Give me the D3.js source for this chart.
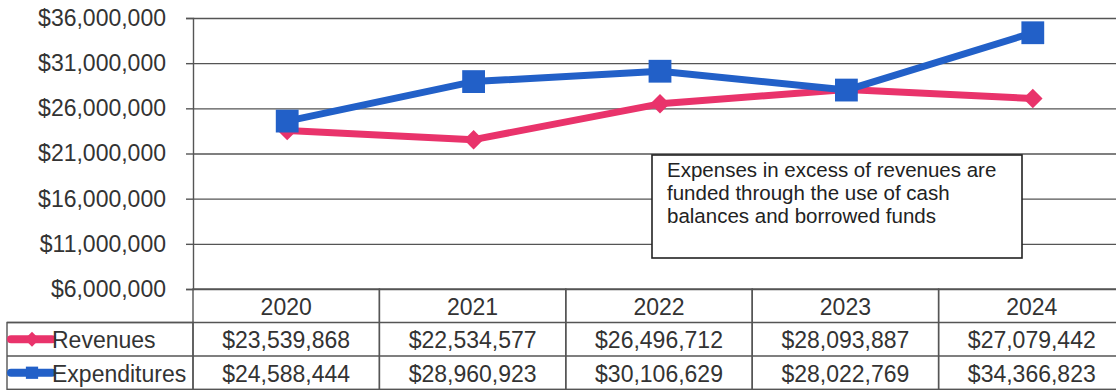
<!DOCTYPE html>
<html><head><meta charset="utf-8">
<script src="https://cdn.jsdelivr.net/npm/d3@7"></script>
<style>
  body { margin: 0; background: #fff; overflow: hidden; }
  svg { display: block; font-family: "Liberation Sans", Arial, sans-serif; }
</style>
</head><body>
<svg id="chart" width="1116" height="390"></svg>
<script>
// Revenue vs. expenditure history, with a data table under the plot
const years = ["2020", "2021", "2022", "2023", "2024"];
const revenues = [23539868, 22534577, 26496712, 28093887, 27079442];
const expenditures = [24588444, 28960923, 30106629, 28022769, 34366823];
const yTicks = [6000000, 11000000, 16000000, 21000000, 26000000, 31000000, 36000000];
const seriesNames = ["Revenues", "Expenditures"];
const noteLines = ["Expenses in excess of revenues are", "funded through the use of cash", "balances and borrowed funds"];

const series = [
  { name: seriesNames[0], values: revenues, color: "#e9336b", marker: "diamond" },
  { name: seriesNames[1], values: expenditures, color: "#2260c8", marker: "square" }
];

const svg = d3.select("#chart");
const textColor = "#333";
const lineColor = "#555";
const fontSize = "23px";

// the frame runs slightly past the right edge of the drawing
const plot = { left: 193, right: 1125, top: 18, bottom: 289 };
const rowH = 33.5;
const legendLeft = 7;

const y = d3.scaleLinear().domain([6000000, 36000000]).range([plot.bottom, plot.top]);
const col = d3.scaleBand().domain(years).range([plot.left, plot.right]);
const x = d => col(d) + col.bandwidth() / 2 + 1;

const fmt = d => "$" + d3.format(",")(d);

// Horizontal gridlines
const grid = svg.append("g")
  .attr("transform", `translate(${plot.left},0)`)
  .call(d3.axisLeft(y).tickValues(yTicks).tickSize(-(plot.right - plot.left)).tickFormat(""));
grid.select(".domain").remove();
grid.selectAll("line").attr("stroke", lineColor).attr("stroke-width", 1.4);

// Y axis with dollar labels
const yAxis = svg.append("g")
  .attr("transform", `translate(${plot.left},0)`)
  .call(d3.axisLeft(y).tickValues(yTicks).tickSize(7).tickPadding(20).tickFormat(fmt));
yAxis.attr("font-family", null).attr("font-size", null);
yAxis.select(".domain").attr("stroke", lineColor).attr("stroke-width", 1.4);
yAxis.selectAll("line").attr("stroke", lineColor).attr("stroke-width", 1.4);
yAxis.selectAll("text").attr("fill", textColor).style("font-size", fontSize);

// Data table under the plot
const table = svg.append("g");
const rowTop = i => plot.bottom + rowH * i;
table.selectAll(".hcell").data(years).join("rect")
  .attr("x", d => col(d)).attr("y", rowTop(0))
  .attr("width", col.bandwidth()).attr("height", rowH * 3)
  .attr("fill", "none").attr("stroke", lineColor).attr("stroke-width", 1.4);
table.selectAll(".rowline").data([1, 2, 3]).join("line")
  .attr("x1", legendLeft).attr("x2", plot.right)
  .attr("y1", d => rowTop(d)).attr("y2", d => rowTop(d))
  .attr("stroke", lineColor).attr("stroke-width", 1.4);
table.append("rect")
  .attr("x", legendLeft).attr("y", rowTop(1))
  .attr("width", plot.left - legendLeft).attr("height", rowH * 2)
  .attr("fill", "none").attr("stroke", lineColor).attr("stroke-width", 1.4);

table.selectAll(".year").data(years).join("text")
  .attr("x", d => col(d) + col.bandwidth() / 2)
  .attr("y", rowTop(0) + rowH / 2 + 1)
  .attr("text-anchor", "middle").attr("dominant-baseline", "central")
  .attr("fill", textColor).style("font-size", fontSize)
  .text(d => d);

series.forEach((s, si) => {
  const cy = rowTop(si + 1) + rowH / 2;
  table.selectAll(".val" + si).data(s.values).join("text")
    .attr("x", (d, i) => col(years[i]) + col.bandwidth() / 2)
    .attr("y", cy + 1)
    .attr("text-anchor", "middle").attr("dominant-baseline", "central")
    .attr("fill", textColor).style("font-size", fontSize)
    .text(d => fmt(d));
  // legend key
  table.append("line")
    .attr("x1", legendLeft + 4).attr("x2", legendLeft + 45)
    .attr("y1", cy).attr("y2", cy)
    .attr("stroke", s.color).attr("stroke-width", 8).attr("stroke-linecap", "round");
  const key = d3.symbol().type(d3.symbolSquare).size(s.marker === "square" ? 150 : 110);
  table.append("path").attr("d", key)
    .attr("transform", `translate(${legendLeft + 25},${cy}) rotate(${s.marker === "diamond" ? 45 : 0})`)
    .attr("fill", s.color);
  table.append("text")
    .attr("x", legendLeft + 45).attr("y", cy + 1)
    .attr("dominant-baseline", "central")
    .attr("fill", textColor).style("font-size", fontSize)
    .text(s.name);
});

// Series lines and markers
const line = d3.line().x((d, i) => x(years[i])).y(d => y(d));
series.forEach(s => {
  const g = svg.append("g");
  g.append("path").datum(s.values).attr("d", line)
    .attr("fill", "none").attr("stroke", s.color).attr("stroke-width", 7)
    .attr("stroke-linejoin", "round");
  const sym = d3.symbol().type(d3.symbolSquare).size(s.marker === "square" ? 520 : 190);
  g.selectAll("path.mk").data(s.values).join("path")
    .attr("class", "mk")
    .attr("d", sym)
    .attr("transform", (d, i) => `translate(${x(years[i])},${y(d)}) rotate(${s.marker === "diamond" ? 45 : 0})`)
    .attr("fill", s.color);
});

// Explanatory note
const note = svg.append("g");
note.append("rect")
  .attr("x", 652).attr("y", 155).attr("width", 370).attr("height", 103)
  .attr("fill", "#fff").attr("stroke", "#222").attr("stroke-width", 1.6);
note.selectAll("text").data(noteLines).join("text")
  .attr("x", 667).attr("y", (d, i) => 177 + i * 23)
  .attr("fill", "#222").style("font-size", "20.5px")
  .text(d => d);
</script>
</body></html>
